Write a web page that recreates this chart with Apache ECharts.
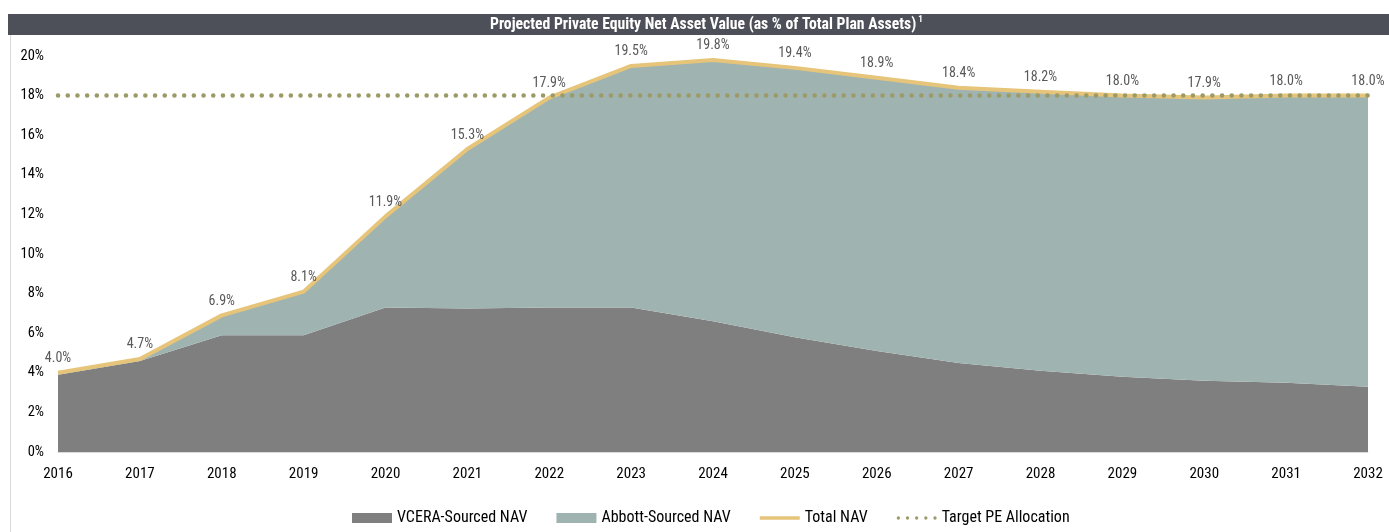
<!DOCTYPE html>
<html><head><meta charset="utf-8">
<script src="https://cdn.jsdelivr.net/npm/echarts@6/dist/echarts.min.js"></script>
<style>html,body{margin:0;padding:0;background:#fff}#c{width:1389px;height:532px}</style>
</head><body><div id="c"></div>
<script>
const years = ['2016','2017','2018','2019','2020','2021','2022','2023','2024','2025','2026','2027','2028','2029','2030','2031','2032'];
const totalNAV = [4.0,4.7,6.9,8.1,11.9,15.3,17.9,19.5,19.8,19.4,18.9,18.4,18.2,18.0,17.9,18.0,18.0];
const vceraNAV = [3.9,4.6,5.9,5.9,7.3,7.25,7.3,7.3,6.6,5.8,5.1,4.5,4.1,3.8,3.6,3.5,3.3];
const targetPE = [18,18,18,18,18,18,18,18,18,18,18,18,18,18,18,18,18];
const yTicks = [0,2,4,6,8,10,12,14,16,18,20];
const abbottNAV = totalNAV.map((t,i)=>+(t - vceraNAV[i]).toFixed(2));

const FONT = '"Roboto Condensed","DejaVu Sans Condensed",sans-serif';
const chart = echarts.init(document.getElementById('c'), null, {renderer:'canvas'});
chart.setOption({
  animation:false,
  textStyle:{fontFamily:FONT},
  graphic:[
    {type:'rect', shape:{x:8,y:14,width:1381,height:21}, style:{fill:'#4d5059'}, silent:true},
    {type:'line', shape:{x1:10.5,y1:35,x2:10.5,y2:532}, style:{stroke:'#d9d9d9',lineWidth:1}, silent:true},
    {type:'text', left:490, top:15, style:{
      rich:{t:{fontFamily:FONT,fontWeight:'bold',fontSize:15.7,fill:'#ffffff',lineHeight:20}, s:{fontFamily:FONT,fontWeight:'bold',fontSize:9,fill:'#ffffff',verticalAlign:'top',lineHeight:12,padding:[0,0,6,2]}},
      text:'{t|Projected Private Equity Net Asset Value (as % of Total Plan Assets)}{s|1}'
    }}
  ],
  grid:{left:58,right:21,top:56,bottom:80},
  legend:{
    left:347, top:505, itemGap:29, itemWidth:40, itemHeight:10,
    textStyle:{fontFamily:FONT,fontSize:16,color:'#000'},
    data:[
      {name:'VCERA-Sourced NAV', icon:'rect'},
      {name:'Abbott-Sourced NAV', icon:'rect'},
      {name:'Total NAV', icon:'path://M0,0h44v4h-44z', itemStyle:{color:'#e6c57b'}},
      {name:'Target PE Allocation', icon:'path://M2,0a2,2 0 1,0 0.001,0zM13,0a2,2 0 1,0 0.001,0zM24,0a2,2 0 1,0 0.001,0zM35,0a2,2 0 1,0 0.001,0zM46,0a2,2 0 1,0 0.001,0z', itemStyle:{color:'#9c9b68'}}
    ]
  },
  xAxis:{type:'category', data:years, boundaryGap:false,
    axisLine:{lineStyle:{color:'#d9d9d9'}}, axisTick:{show:false},
    axisLabel:{color:'#000', fontSize:15, margin:15, fontFamily:FONT}},
  yAxis:{type:'value', min:0, max:20, interval:2,
    axisLine:{show:false}, axisTick:{show:false}, splitLine:{show:false},
    axisLabel:{color:'#000', fontSize:14.5, margin:14, fontFamily:FONT, formatter:v=>yTicks.includes(v)?v+'%':''}},
  series:[
    {name:'VCERA-Sourced NAV', type:'line', stack:'nav', data:vceraNAV, symbol:'none',
      lineStyle:{width:0}, areaStyle:{color:'#7f7f7f', opacity:1}, itemStyle:{color:'#7f7f7f'}, z:1},
    {name:'Abbott-Sourced NAV', type:'line', stack:'nav', data:abbottNAV, symbol:'none',
      lineStyle:{width:0}, areaStyle:{color:'#9fb3b0', opacity:1}, itemStyle:{color:'#9fb3b0'}, z:1},
    {name:'Total NAV', type:'line', data:totalNAV, symbol:'circle', symbolSize:0.1, showSymbol:true,
      lineStyle:{color:'#e6c57b', width:4}, itemStyle:{color:'#e6c57b'}, z:3,
      label:{show:true, position:'top', distance:7, color:'#595959', fontSize:14, fontFamily:FONT,
        formatter:p=>p.value.toFixed(1)+'%'}},
    {name:'Target PE Allocation', type:'line', data:targetPE, symbol:'none',
      lineStyle:{color:'#9c9b68', width:4.5, type:[0.1,9.6], cap:'round'}, itemStyle:{color:'#9c9b68'}, z:4}
  ]
});
</script></body></html>
